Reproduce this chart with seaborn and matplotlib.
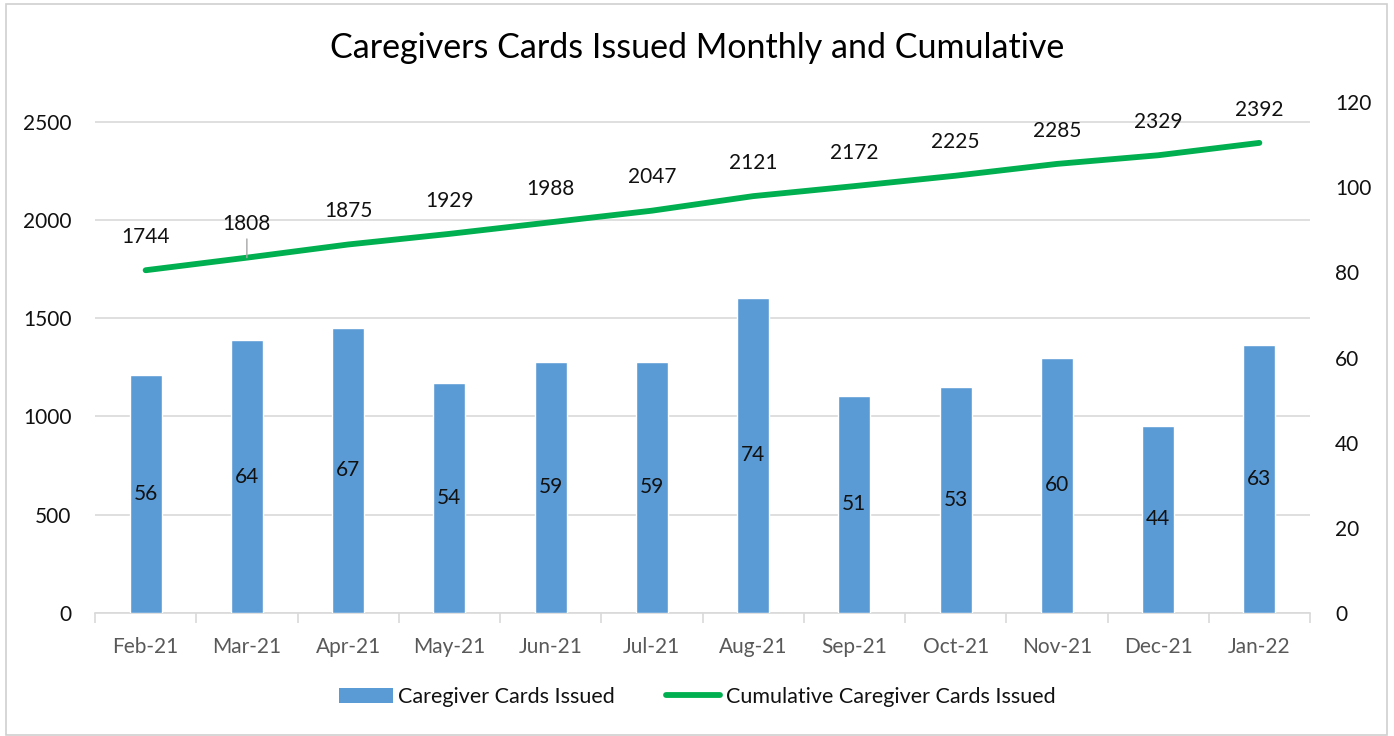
import numpy as np
import pandas as pd
import matplotlib
matplotlib.use("Agg")
import matplotlib.pyplot as plt
import seaborn as sns
from matplotlib.patches import Rectangle, Patch
from matplotlib.lines import Line2D

months = ["Feb-21", "Mar-21", "Apr-21", "May-21", "Jun-21", "Jul-21",
          "Aug-21", "Sep-21", "Oct-21", "Nov-21", "Dec-21", "Jan-22"]
monthly = [56, 64, 67, 54, 59, 59, 74, 51, 53, 60, 44, 63]
cumulative = [1744, 1808, 1875, 1929, 1988, 2047, 2121, 2172, 2225, 2285, 2329, 2392]
left_ticks = [0, 500, 1000, 1500, 2000, 2500]
right_ticks = [0, 20, 40, 60, 80, 100, 120]

BAR_C = "#5B9BD5"
LINE_C = "#00B050"
GRID_C = "#D9D9D9"
TXT_C = "#111111"
FONT = ["Lato", "DejaVu Sans"]
FS = 15

sns.set_theme(style="white")
plt.rcParams["font.family"] = FONT

df = pd.DataFrame({"month": months, "monthly": monthly,
                   "cumulative": cumulative, "pos": np.arange(len(months))})

fig = plt.figure(figsize=(13.94, 7.36), dpi=100)
fig.patch.set_facecolor("white")
fig.patches.append(Rectangle((6/1394, 1/736), 1381/1394, 731/736, transform=fig.transFigure,
                             fill=False, edgecolor="#D0D0D0", linewidth=1.2))
ax = fig.add_axes([95/1394, 1-613/736, (1310-95)/1394, (613-102)/736])
ax2 = ax.twinx()

# line on primary axis
sns.lineplot(data=df, x="pos", y="cumulative", ax=ax, color=LINE_C, linewidth=4.2,
             sort=False, solid_capstyle="round", legend=False)
# bars on secondary axis (drawn above the primary axis grid)
sns.barplot(data=df, x="month", y="monthly", ax=ax2, color=BAR_C, width=0.315,
            saturation=1, legend=False)

ax.set_ylim(0, 2600)
ax.set_yticks(left_ticks)
ax2.set_ylim(0, 120)
ax2.set_yticks(right_ticks)
ax.set_xlim(-0.5, len(months) - 0.5)

ax.grid(axis="y", color=GRID_C, linewidth=1.2)
ax.set_axisbelow(True)

for a in (ax, ax2):
    for s in a.spines.values():
        s.set_visible(False)
    a.set_xlabel("")
    a.set_ylabel("")
ax.spines["bottom"].set_visible(True)
ax.spines["bottom"].set_color(GRID_C)
ax.spines["bottom"].set_linewidth(1.2)

ax.set_xticks(np.arange(len(months)))
ax.set_xticklabels(months)
ax.set_xticks(np.arange(len(months) + 1) - 0.5, minor=True)
ax.tick_params(axis="x", which="major", length=0, pad=17, labelsize=FS, labelcolor="#595959")
ax.tick_params(axis="x", which="minor", length=7, width=1.2, color=GRID_C, bottom=True)
ax.tick_params(axis="y", length=0, pad=17, labelsize=FS, labelcolor=TXT_C)
ax2.tick_params(axis="y", length=0, pad=18, labelsize=FS, labelcolor=TXT_C)

# bar labels
for c in ax2.containers:
    ax2.bar_label(c, labels=[str(v) for v in monthly], label_type="center",
                  fontsize=FS, color=TXT_C)

# line labels
for i, v in enumerate(cumulative):
    kw = dict(xy=(i, v), xytext=(0, 24), textcoords="offset points",
              ha="center", va="center", fontsize=FS, color=TXT_C)
    if i == 1:
        kw["arrowprops"] = dict(arrowstyle="-", color="#A6A6A6", lw=1, shrinkA=1, shrinkB=0)
    ax.annotate(str(v), **kw)

fig.text(0.5, 1-48/736, "Caregivers Cards Issued Monthly and Cumulative",
         ha="center", va="center", fontsize=24.5, color="#000000")

handles = [Patch(facecolor=BAR_C, edgecolor="none"),
           Line2D([0], [0], color=LINE_C, linewidth=4.2, solid_capstyle="round")]
fig.legend(handles, ["Caregiver Cards Issued", "Cumulative Caregiver Cards Issued"],
           loc="center", bbox_to_anchor=(0.5, 1-697/736), ncol=2, frameon=False,
           fontsize=15.5, handlelength=2.5, handletextpad=0.25, columnspacing=2.4,
           labelcolor=TXT_C)

fig.savefig("out.png", dpi=100, facecolor="white")
